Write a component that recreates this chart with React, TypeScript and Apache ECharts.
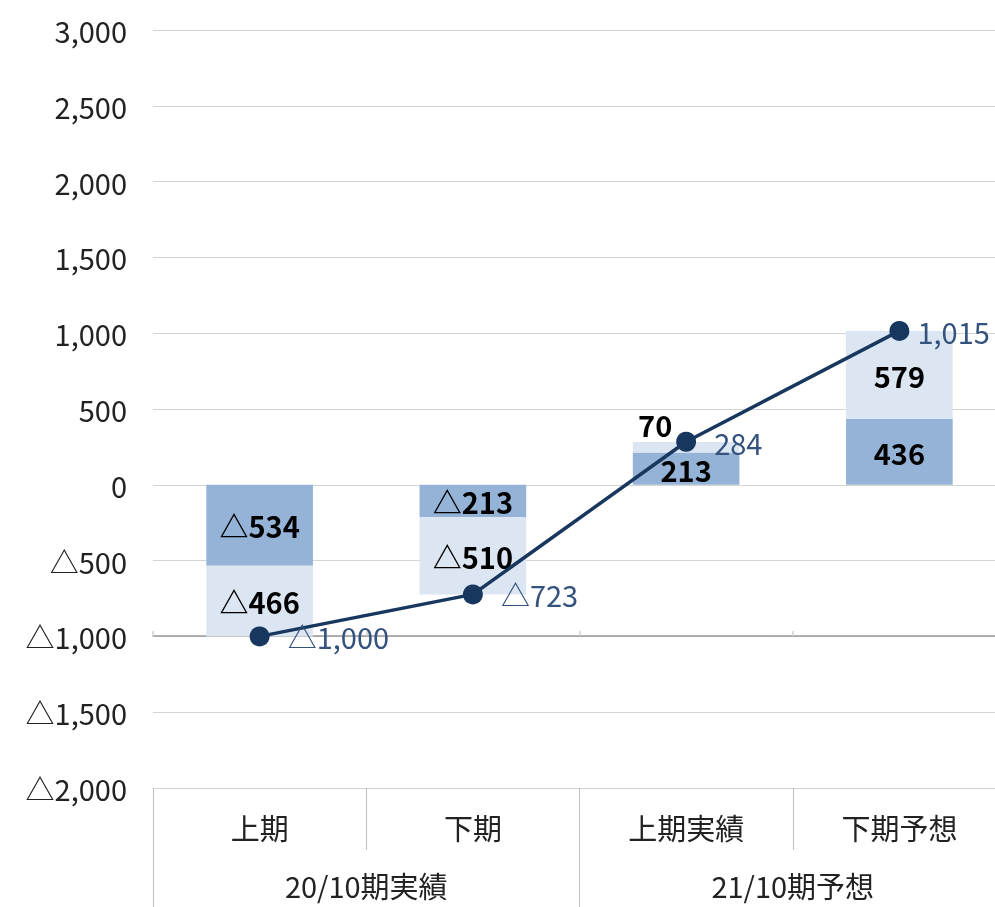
import React, { useEffect, useRef } from "react";
import * as echarts from "echarts";

const categories = ["上期", "下期", "上期実績", "下期予想"];
const groups = ["20/10期実績", "21/10期予想"];
const darkValues = [-534, -213, 213, 436];
const lightValues = [-466, -510, 70, 579];
const totalValues = [-1000, -723, 284, 1015];
const yMin = -2000;
const yMax = 3000;
const yInterval = 500;

const FONT = "'Noto Sans CJK JP', 'Noto Sans', sans-serif";

const fmt = (v: number) => {
  const s = Math.abs(v).toLocaleString("en-US");
  return v < 0 ? "△" + s : s;
};

export default function App() {
  const ref = useRef<HTMLDivElement>(null);
  useEffect(() => {
    if (!ref.current) return;
    const chart = echarts.init(ref.current, null, { renderer: "svg" });
    chart.setOption({
      animation: false,
      textStyle: { fontFamily: FONT },
      grid: { left: 153, top: 30, width: 853, height: 758, containLabel: false },
      xAxis: [
        {
          type: "category",
          data: categories,
          position: "bottom",
          axisLine: { show: true, onZero: false, lineStyle: { color: "#d0d0d0", width: 1 } },
          axisTick: { show: true, length: 62, lineStyle: { color: "#c0c0c0" } },
          axisLabel: { fontSize: 29, color: "#222", margin: 24, fontFamily: FONT },
          splitLine: { show: false },
        },
        {
          type: "category",
          data: groups,
          position: "bottom",
          axisLine: { show: false, onZero: false },
          axisTick: { show: true, length: 120, lineStyle: { color: "#c0c0c0" } },
          axisLabel: { fontSize: 29, color: "#222", margin: 82, fontFamily: FONT },
          splitLine: { show: false },
        },
        {
          type: "category",
          data: categories,
          position: "top",
          offset: -606,
          axisLine: { show: true, onZero: false, lineStyle: { color: "#9a9a9a", width: 1.5 } },
          axisTick: { show: true, inside: false, length: 5, lineStyle: { color: "#d0d0d0", width: 1.5 } },
          axisLabel: { show: false },
          splitLine: { show: false },
          z: 1,
        },
      ],
      yAxis: {
        type: "value",
        min: yMin,
        max: yMax,
        interval: yInterval,
        axisLine: { show: false },
        axisTick: { show: false },
        axisLabel: {
          fontSize: 29,
          color: "#222",
          margin: 26,
          fontFamily: FONT,
          formatter: (v: number) => fmt(v),
        },
        splitLine: { show: true, lineStyle: { color: "#d4d4d4", width: 1 } },
      },
      series: [
        {
          type: "bar",
          name: "dark",
          stack: "a",
          xAxisIndex: 0,
          barWidth: "50%",
          data: darkValues,
          itemStyle: { color: "#95b3d7" },
          label: {
            show: true,
            position: "inside",
            formatter: (p: any) => fmt(p.value),
            fontSize: 29,
            fontWeight: "bold",
            color: "#000",
            fontFamily: FONT,
          },
          z: 2,
        },
        {
          type: "bar",
          name: "light",
          stack: "a",
          xAxisIndex: 0,
          barWidth: "50%",
          data: lightValues.map((v, i) =>
            i === 2
              ? { value: v, label: { position: "top", offset: [-31, 2] } }
              : v
          ),
          itemStyle: { color: "#dce6f2" },
          label: {
            show: true,
            position: "inside",
            formatter: (p: any) => fmt(p.value),
            fontSize: 29,
            fontWeight: "bold",
            color: "#000",
            fontFamily: FONT,
          },
          z: 2,
        },
        {
          type: "line",
          name: "total",
          xAxisIndex: 0,
          data: totalValues.map((v, i) =>
            i === totalValues.length - 1
              ? { value: v, label: { distance: 8 } }
              : v
          ),
          symbol: "circle",
          symbolSize: 20,
          lineStyle: { color: "#17375e", width: 3.5 },
          itemStyle: { color: "#17375e" },
          label: {
            show: true,
            position: "right",
            distance: 18,
            formatter: (p: any) => fmt(p.value),
            fontSize: 29,
            color: "#34527e",
            fontFamily: FONT,
          },
          z: 5,
        },
      ],
    });
    return () => chart.dispose();
  }, []);
  return (
    <div
      ref={ref}
      style={{ position: "fixed", left: 0, top: 0, width: 1010, height: 907 }}
    />
  );
}
